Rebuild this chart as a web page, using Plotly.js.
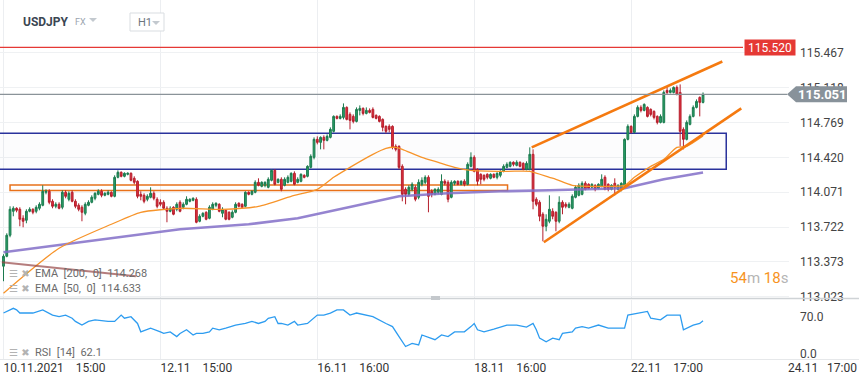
<!DOCTYPE html>
<html><head><meta charset="utf-8">
<script src="https://cdn.plot.ly/plotly-3.0.1.min.js"></script>
<style>html,body{margin:0;padding:0;background:#fff;}#chart{width:859px;height:385px;}</style>
</head><body><div id="chart"></div>
<script>
// ---- data (USDJPY H1) ----
const openP = [
113.33,113.43,113.64,113.88,113.91,113.90,113.81,113.79,113.88,113.90,
113.88,113.91,113.94,114.07,114.08,113.98,113.93,113.95,113.92,114.07,
114.00,114.07,113.98,113.94,113.92,113.86,113.94,113.97,114.01,114.05,
114.08,114.04,114.05,114.07,114.03,114.22,114.27,114.23,114.25,114.26,
114.21,114.18,114.05,114.04,114.00,114.02,114.06,114.00,113.97,113.97,
113.91,113.88,113.92,113.90,113.97,113.92,113.95,113.98,113.99,114.00,
113.78,113.83,113.87,113.81,113.90,113.94,113.95,113.86,113.89,113.87,
113.82,113.87,113.96,113.95,113.93,114.07,114.05,114.07,114.17,114.13,
114.14,114.12,114.19,114.29,114.17,114.20,114.14,114.17,114.18,114.26,
114.17,114.18,114.24,114.23,114.32,114.42,114.60,114.57,114.62,114.59,
114.62,114.68,114.83,114.81,114.82,114.92,114.85,114.83,114.78,114.89,
114.91,114.86,114.89,114.90,114.84,114.83,114.80,114.73,114.73,114.73,
114.53,114.53,114.33,114.10,114.05,114.10,114.12,114.02,114.15,114.17,
114.22,114.08,114.05,114.07,114.05,114.18,114.17,114.02,114.16,114.18,
114.15,114.18,114.15,114.33,114.42,114.30,114.25,114.24,114.25,114.21,
114.25,114.22,114.24,114.28,114.32,114.33,114.37,114.34,114.37,114.36,
114.30,114.30,114.45,114.00,113.97,113.85,113.73,113.78,113.88,113.87,
113.78,113.97,113.95,113.92,113.91,114.02,114.04,114.05,114.16,114.15,
114.12,114.14,114.11,114.13,114.22,114.15,114.10,114.16,114.10,114.10,
114.13,114.60,114.73,114.67,114.83,114.92,114.89,114.92,114.90,114.88,
114.83,114.77,114.77,115.09,115.07,115.07,115.12,115.07,114.70,114.60,
114.75,114.83,114.92,115.02,114.97];
const highP = [
113.45,113.66,113.93,113.93,113.92,113.92,113.84,113.90,113.92,113.91,
113.94,113.97,114.14,114.10,114.10,114.00,113.97,113.97,114.09,114.09,
114.08,114.09,114.00,113.96,113.94,113.97,113.99,114.04,114.07,114.10,
114.10,114.07,114.09,114.08,114.24,114.29,114.28,114.27,114.27,114.27,
114.23,114.19,114.08,114.06,114.05,114.12,114.08,114.02,114.00,113.99,
113.93,113.93,113.93,113.97,113.99,113.97,114.03,114.01,114.02,114.02,
113.85,113.87,113.88,113.94,113.97,113.97,113.96,113.92,113.90,113.88,
113.89,113.97,113.97,113.96,114.08,114.08,114.09,114.19,114.21,114.18,
114.18,114.22,114.30,114.30,114.21,114.22,114.22,114.24,114.27,114.28,
114.22,114.26,114.25,114.34,114.45,114.62,114.63,114.63,114.64,114.65,
114.72,114.84,114.84,114.85,114.96,114.93,114.87,114.85,114.92,114.94,
114.92,114.92,114.91,114.92,114.85,114.84,114.81,114.74,114.75,114.74,
114.55,114.54,114.35,114.12,114.14,114.17,114.14,114.20,114.22,114.24,
114.24,114.10,114.11,114.12,114.25,114.20,114.19,114.19,114.19,114.19,
114.19,114.20,114.37,114.47,114.44,114.31,114.26,114.25,114.26,114.26,
114.26,114.27,114.29,114.35,114.37,114.38,114.38,114.39,114.38,114.37,
114.38,114.52,114.50,114.02,113.99,113.87,113.85,114.04,113.91,113.88,
114.03,113.99,113.97,113.97,114.05,114.14,114.16,114.18,114.18,114.16,
114.16,114.15,114.16,114.25,114.24,114.16,114.15,114.21,114.15,114.17,
114.61,114.75,114.74,114.85,114.94,114.94,114.96,114.93,114.91,114.89,
114.84,114.85,115.09,115.13,115.11,115.13,115.14,115.15,114.72,114.79,
114.85,114.94,115.00,115.03,115.07];
const lowP = [
113.18,113.42,113.62,113.83,113.87,113.73,113.72,113.76,113.87,113.85,
113.86,113.89,113.93,114.05,113.95,113.91,113.91,113.90,113.90,114.01,
113.98,113.97,113.91,113.88,113.78,113.84,113.93,113.96,113.99,114.04,
114.02,114.03,114.04,114.02,114.02,114.21,114.22,114.22,114.24,114.18,
114.15,114.01,113.99,113.96,113.98,114.01,113.99,113.91,113.93,113.90,
113.77,113.87,113.84,113.88,113.87,113.90,113.94,113.97,113.98,113.76,
113.77,113.82,113.79,113.80,113.89,113.92,113.87,113.82,113.79,113.79,
113.81,113.86,113.92,113.91,113.92,114.04,114.04,114.06,114.13,114.12,
114.12,114.11,114.18,114.14,114.16,114.08,114.13,114.16,114.17,114.14,
114.16,114.17,114.21,114.22,114.31,114.40,114.55,114.50,114.50,114.58,
114.61,114.67,114.80,114.80,114.80,114.79,114.70,114.76,114.77,114.84,
114.84,114.85,114.86,114.81,114.80,114.77,114.68,114.66,114.67,114.50,
114.48,114.30,113.98,113.95,114.03,114.08,113.98,114.00,114.13,114.15,
113.87,114.02,114.04,114.05,114.04,114.14,113.97,114.01,114.14,114.14,
114.14,114.13,114.14,114.32,114.27,114.14,114.15,114.18,114.20,114.20,
114.21,114.20,114.22,114.27,114.31,114.32,114.33,114.33,114.32,114.29,
114.29,114.29,113.90,113.93,113.78,113.58,113.68,113.76,113.80,113.68,
113.76,113.85,113.91,113.91,113.90,114.01,114.03,114.04,114.09,114.10,
114.11,114.08,114.10,114.12,114.09,114.08,114.09,114.04,114.09,114.08,
114.12,114.59,114.66,114.66,114.82,114.87,114.88,114.82,114.83,114.80,
114.75,114.76,114.76,115.05,115.06,115.06,115.04,114.53,114.50,114.59,
114.74,114.82,114.91,114.83,114.96];
const closeP = [
113.43,113.64,113.90,113.91,113.89,113.80,113.78,113.88,113.90,113.87,
113.92,113.95,114.08,114.08,113.97,113.93,113.95,113.91,114.07,114.03,
114.06,113.98,113.93,113.90,113.87,113.95,113.97,114.02,114.06,114.08,
114.04,114.06,114.07,114.03,114.22,114.27,114.23,114.26,114.26,114.19,
114.17,114.03,114.03,113.98,114.03,114.06,114.01,113.93,113.95,113.91,
113.88,113.91,113.85,113.95,113.88,113.95,114.00,114.00,114.01,113.77,
113.83,113.86,113.80,113.92,113.95,113.96,113.88,113.90,113.80,113.80,
113.87,113.95,113.93,113.92,114.07,114.05,114.08,114.17,114.14,114.17,
114.17,114.20,114.29,114.15,114.20,114.10,114.20,114.22,114.26,114.15,
114.20,114.25,114.22,114.33,114.43,114.60,114.57,114.62,114.59,114.63,
114.70,114.83,114.81,114.83,114.92,114.80,114.79,114.78,114.90,114.91,
114.86,114.89,114.87,114.82,114.81,114.78,114.72,114.68,114.70,114.52,
114.50,114.32,114.05,114.05,114.12,114.15,114.00,114.17,114.19,114.22,
114.03,114.05,114.10,114.10,114.18,114.16,114.00,114.17,114.18,114.15,
114.18,114.15,114.35,114.42,114.28,114.18,114.20,114.20,114.22,114.25,
114.22,114.26,114.28,114.33,114.35,114.37,114.35,114.37,114.33,114.30,
114.36,114.45,113.98,113.95,113.83,113.73,113.80,113.90,113.83,113.78,
113.97,113.92,113.93,113.95,114.03,114.12,114.14,114.16,114.10,114.11,
114.15,114.10,114.15,114.20,114.10,114.10,114.14,114.12,114.14,114.16,
114.60,114.73,114.67,114.83,114.92,114.89,114.95,114.83,114.85,114.82,
114.77,114.83,115.07,115.07,115.09,115.12,115.05,114.68,114.60,114.77,
114.83,114.92,114.98,114.97,115.051];

const ema200Idx = [0,19,34,54,75,90,107,121,136,152,167,182,190,202,214];
const ema200Val = [113.47,113.55,113.62,113.70,113.75,113.81,113.93,114.03,114.06,114.08,114.09,114.10,114.11,114.20,114.268];
const ema50Idx = [0,17,33,42,54,67,78,88,96,101,106,113,117,120,122,128,133,138,143,154,161,167,169,174,185,190,193,198,202,206,209,214];
const ema50Val = [113.06,113.51,113.75,113.87,113.91,113.90,113.93,114.03,114.10,114.22,114.32,114.45,114.51,114.52,114.50,114.42,114.37,114.32,114.29,114.28,114.28,114.22,114.20,114.14,114.13,114.14,114.22,114.33,114.40,114.52,114.53,114.633];
const rsiIdx = [0,3,4,5,9,12,15,17,19,21,22,24,26,28,32,34,36,37,39,41,42,45,48,49,51,53,54,56,58,59,61,63,64,66,68,71,74,76,78,80,81,83,84,85,87,89,90,93,96,98,100,102,104,106,108,111,113,117,119,121,123,125,127,128,132,134,136,138,141,143,144,145,147,150,154,157,160,162,163,164,166,168,170,171,174,175,177,179,182,185,187,190,191,194,197,198,201,203,207,208,211,213,214];
const rsiVal = [77,86,83,77,77,83,73,70,73,67,61,54,61,64,61,61,73,67,70,57,41,48,41,38,41,32,38,45,35,38,38,41,48,45,48,54,57,61,57,61,67,70,57,57,54,61,54,57,73,73,77,83,83,73,77,73,70,57,51,32,13,19,16,35,26,35,32,41,41,51,57,45,41,46,54,54,50,57,45,29,22,29,26,38,41,48,51,48,54,48,48,48,73,77,80,67,64,73,73,45,54,57,62.1];

const xTickVals = [0,48,96,144,192,240];
const xTickText = ["10.11.2021\u00a0\u00a0\u00a0\u00a015:00","12.11\u00a0\u00a0\u00a0\u00a015:00","16.11\u00a0\u00a0\u00a0\u00a016:00","18.11\u00a0\u00a0\u00a0\u00a016:00","22.11\u00a0\u00a0\u00a0\u00a017:00","24.11\u00a0\u00a0\u00a017:00"];
const priceTicks = [115.467,115.118,114.769,114.420,114.071,113.722,113.373,113.023];
const rsiTicks = [0,70];

const lastPrice = 115.051;
const alertPrice = 115.520;
const zoneBox = {x0:-5, x1:221.1, lo:114.30, hi:114.66};
const rangeBox = {x0:2.0, x1:154.2, lo:114.087, hi:114.143};
const channelUpper = {x:[161.6,219.9], y:[114.52,115.38]};
const channelLower = {x:[165.3,225.7], y:[113.57,114.91]};
const oldTrend = {x:[-0.5,40.5], y:[113.37,113.23]};

// ---- drawing ----
const W = 859, H = 385;
const X = p => p / W;
const Y = p => 1 - p / H;
const idx = openP.map((_, i) => i);
const FONT = "Roboto, 'Open Sans', Arial, sans-serif";

const traces = [
  {type:'scatter', mode:'lines', x:ema200Idx, y:ema200Val, xaxis:'x', yaxis:'y',
   line:{color:'rgba(130,110,200,0.85)', width:2.6}, hoverinfo:'skip'},
  {type:'scatter', mode:'lines', x:ema50Idx, y:ema50Val, xaxis:'x', yaxis:'y',
   line:{color:'#f7942a', width:1.3, shape:'spline', smoothing:0.6}, hoverinfo:'skip'},
  {type:'candlestick', x:idx, open:openP, high:highP, low:lowP, close:closeP, xaxis:'x', yaxis:'y',
   increasing:{line:{color:'#1b7a4e', width:1}, fillcolor:'#2a9f68'},
   decreasing:{line:{color:'#b51f2c', width:1}, fillcolor:'#e0303f'},
   whiskerwidth:0, hoverinfo:'skip'},
  {type:'scatter', mode:'lines', x:rsiIdx, y:rsiVal, xaxis:'x', yaxis:'y2',
   line:{color:'#2d9cf0', width:1.3}, hoverinfo:'skip'}
];

const shapes = [
  {type:'rect', xref:'x', yref:'y', x0:zoneBox.x0, x1:zoneBox.x1, y0:zoneBox.lo, y1:zoneBox.hi,
   fillcolor:'rgba(40,40,110,0.012)', line:{color:'#2a329c', width:1.5}, layer:'between'},
  {type:'rect', xref:'x', yref:'y', x0:rangeBox.x0, x1:rangeBox.x1, y0:rangeBox.lo, y1:rangeBox.hi,
   line:{color:'#e8711a', width:1.5}, layer:'between'},
  {type:'line', xref:'x', yref:'y', x0:channelUpper.x[0], x1:channelUpper.x[1], y0:channelUpper.y[0], y1:channelUpper.y[1],
   line:{color:'#f57a10', width:2.6}},
  {type:'line', xref:'x', yref:'y', x0:channelLower.x[0], x1:channelLower.x[1], y0:channelLower.y[0], y1:channelLower.y[1],
   line:{color:'#f57a10', width:2.6}},
  {type:'line', xref:'x', yref:'y', x0:oldTrend.x[0], x1:oldTrend.x[1], y0:oldTrend.y[0], y1:oldTrend.y[1],
   line:{color:'rgba(150,70,70,0.7)', width:2}},
  {type:'line', xref:'paper', yref:'y', x0:0, x1:X(743), y0:alertPrice, y1:alertPrice,
   line:{color:'#e53935', width:1.2}},
  {type:'line', xref:'paper', yref:'y', x0:0, x1:X(787), y0:lastPrice, y1:lastPrice,
   line:{color:'#8a9399', width:1.3}},
  {type:'path', xref:'paper', yref:'y',
   path:`M ${X(787)},${lastPrice} L ${X(796)},${lastPrice+0.08} L ${X(847)},${lastPrice+0.08} L ${X(847)},${lastPrice-0.08} L ${X(796)},${lastPrice-0.08} Z`,
   fillcolor:'#88929a', line:{width:0}},
  // pane separators
  {type:'line', xref:'paper', yref:'paper', x0:0, x1:1, y0:Y(298.5), y1:Y(298.5), line:{color:'#cfd3d6', width:1.5}},
  {type:'line', xref:'paper', yref:'paper', x0:0, x1:1, y0:Y(359.5), y1:Y(359.5), line:{color:'#e6e8ea', width:1}},
  {type:'rect', xref:'paper', yref:'paper', x0:X(431), x1:X(440), y0:Y(300), y1:Y(296), fillcolor:'#c4c8cc', line:{width:0}},
  // header widgets
  {type:'rect', xref:'paper', yref:'paper', x0:X(130), x1:X(164), y0:Y(31), y1:Y(13), fillcolor:'#ffffff', line:{color:'#d9dde1', width:1}},
  {type:'path', xref:'paper', yref:'paper', path:`M ${X(89)},${Y(18)} L ${X(97)},${Y(18)} L ${X(93)},${Y(22)} Z`, fillcolor:'#c3c9cf', line:{width:0}},
  {type:'path', xref:'paper', yref:'paper', path:`M ${X(152)},${Y(21)} L ${X(160)},${Y(21)} L ${X(156)},${Y(25)} Z`, fillcolor:'#c3c9cf', line:{width:0}}
];

const legendFont = {family:FONT, size:11, color:'#6b6b6b'};
const iconFont = {family:'DejaVu Sans', size:10, color:'#b3b3b3'};
const annotations = [
  {xref:'paper', yref:'paper', x:X(21), y:Y(22), xanchor:'left', yanchor:'middle', showarrow:false,
   text:'<b>USDJPY</b>', font:{family:FONT, size:12, color:'#3b4652'}},
  {xref:'paper', yref:'paper', x:X(73), y:Y(22), xanchor:'left', yanchor:'middle', showarrow:false,
   text:'FX', font:{family:FONT, size:9, color:'#9aa4ae'}},
  {xref:'paper', yref:'paper', x:X(136), y:Y(22), xanchor:'left', yanchor:'middle', showarrow:false,
   text:'H1', font:{family:FONT, size:11, color:'#6d757d'}},
  {xref:'paper', yref:'y', x:X(770), y:alertPrice, xanchor:'center', yanchor:'middle', showarrow:false,
   text:'115.520', bgcolor:'#e53935', width:50, height:15, borderpad:0,
   font:{family:FONT, size:12, color:'#ffffff'}},
  {xref:'paper', yref:'y', x:X(822), y:lastPrice, xanchor:'center', yanchor:'middle', showarrow:false,
   text:'<b>115.051</b>', font:{family:FONT, size:13, color:'#ffffff'}},
  {xref:'paper', yref:'paper', x:X(7), y:Y(273), xanchor:'left', yanchor:'middle', showarrow:false,
   text:'☰\u00a0✖', font:iconFont},
  {xref:'paper', yref:'paper', x:X(33), y:Y(273), xanchor:'left', yanchor:'middle', showarrow:false,
   text:'EMA\u00a0\u00a0[200,\u00a0\u00a00]\u00a0\u00a0114.268', font:legendFont},
  {xref:'paper', yref:'paper', x:X(7), y:Y(288), xanchor:'left', yanchor:'middle', showarrow:false,
   text:'☰\u00a0✖', font:iconFont},
  {xref:'paper', yref:'paper', x:X(33), y:Y(288), xanchor:'left', yanchor:'middle', showarrow:false,
   text:'EMA\u00a0\u00a0[50,\u00a0\u00a00]\u00a0\u00a0114.633', font:legendFont},
  {xref:'paper', yref:'paper', x:X(7), y:Y(352), xanchor:'left', yanchor:'middle', showarrow:false,
   text:'☰\u00a0✖', font:iconFont},
  {xref:'paper', yref:'paper', x:X(33), y:Y(352), xanchor:'left', yanchor:'middle', showarrow:false,
   text:'RSI\u00a0\u00a0[14]\u00a0\u00a062.1', font:legendFont},
  {xref:'paper', yref:'paper', x:X(790), y:Y(278), xanchor:'right', yanchor:'middle', showarrow:false,
   text:'<span style="color:#f7931e">54</span><span style="color:#b5b5b5">m</span> <span style="color:#f7931e">18</span><span style="color:#b5b5b5">s</span>',
   font:{family:FONT, size:15, color:'#f7931e'}}
];

const layout = {
  width:W, height:H, margin:{l:0, r:0, t:0, b:0},
  paper_bgcolor:'#ffffff', plot_bgcolor:'#ffffff', showlegend:false,
  font:{family:FONT, size:12, color:'#444'},
  boxgap:0.22,
  xaxis:{domain:[0, 789/W], range:[-1.07, 240.3], anchor:'y2', type:'linear',
    tickmode:'array', tickvals:xTickVals, ticktext:xTickText, ticklabelposition:'outside right',
    ticklabeloverflow:'allow',
    showgrid:true, gridcolor:'#eceef1', gridwidth:1, zeroline:false, showline:false, ticks:'',
    tickfont:{family:FONT, size:12, color:'#333'}, rangeslider:{visible:false}, fixedrange:true},
  yaxis:{domain:[1-298/H, 1], range:[113.012, 115.995], side:'right', anchor:'x',
    tickmode:'array', tickvals:priceTicks, ticktext:priceTicks.map(v=>v.toFixed(3)),
    ticklabeloverflow:'allow',
    showgrid:true, gridcolor:'#eff1f3', zeroline:false, showline:false, ticks:'', ticklabelstandoff:10,
    tickfont:{family:FONT, size:12, color:'#444'}, fixedrange:true},
  yaxis2:{domain:[(H-359)/H, (H-300)/H], range:[-10.9, 101.9], side:'right', anchor:'x',
    tickmode:'array', tickvals:rsiTicks, ticktext:rsiTicks.map(v=>v.toFixed(1)),
    showgrid:false, zeroline:false, showline:false, ticks:'', ticklabelstandoff:10,
    tickfont:{family:FONT, size:12, color:'#444'}, fixedrange:true},
  shapes:shapes, annotations:annotations
};

Plotly.newPlot('chart', traces, layout, {displayModeBar:false, staticPlot:true});
</script>
</body></html>
